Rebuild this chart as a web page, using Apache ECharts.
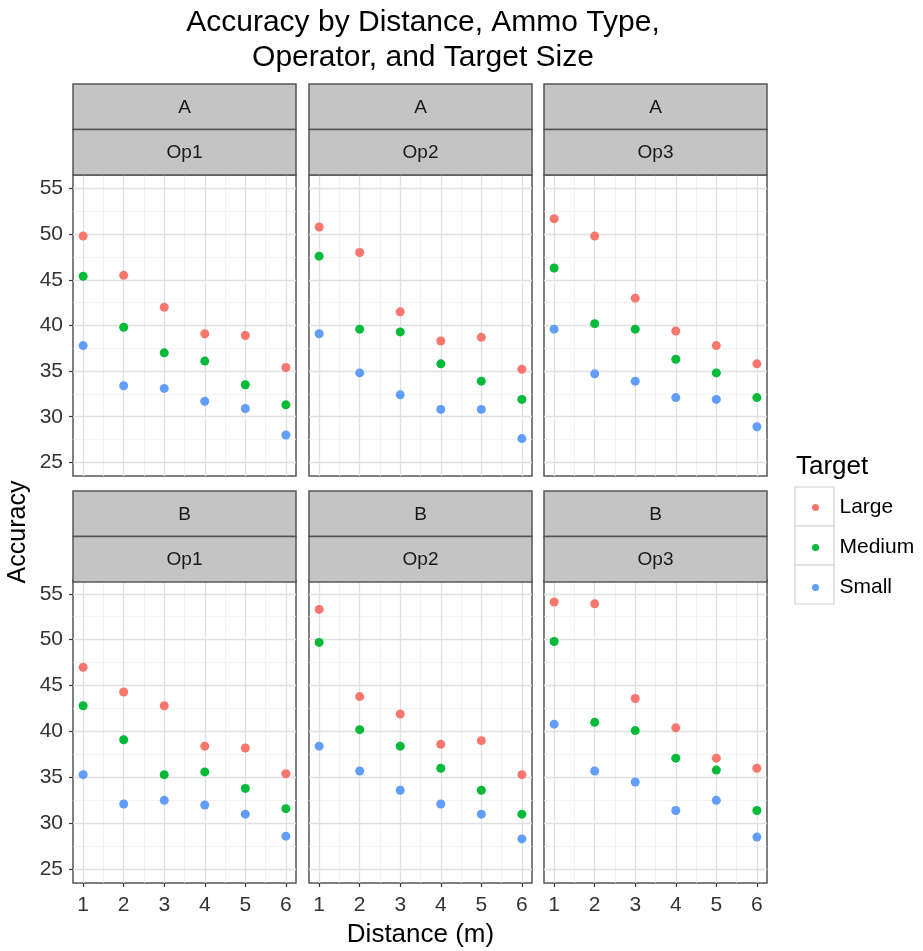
<!DOCTYPE html>
<html><head><meta charset="utf-8">
<script src="https://cdn.jsdelivr.net/npm/echarts@6/dist/echarts.min.js"></script>
<style>html,body{margin:0;padding:0;background:#fff}#c{width:923px;height:951px}</style>
</head><body><div id="c"></div>
<script>
// ---- data ----
const distances = [1, 2, 3, 4, 5, 6];
const ammoTypes = ['A', 'B'];
const operators = ['Op1', 'Op2', 'Op3'];
const targets = ['Large', 'Medium', 'Small'];
const yTicks = [25, 30, 35, 40, 45, 50, 55];
const yMinorTicks = [27.5, 32.5, 37.5, 42.5, 47.5, 52.5];
const xMinorTicks = [1.5, 2.5, 3.5, 4.5, 5.5];

const A_Op1_Large  = [49.8, 45.5, 42.0, 39.1, 38.9, 35.4];
const A_Op1_Medium = [45.4, 39.8, 37.0, 36.1, 33.5, 31.3];
const A_Op1_Small  = [37.8, 33.4, 33.1, 31.7, 30.9, 28.0];
const A_Op2_Large  = [50.8, 48.0, 41.5, 38.3, 38.7, 35.2];
const A_Op2_Medium = [47.6, 39.6, 39.3, 35.8, 33.9, 31.9];
const A_Op2_Small  = [39.1, 34.8, 32.4, 30.8, 30.8, 27.6];
const A_Op3_Large  = [51.7, 49.8, 43.0, 39.4, 37.8, 35.8];
const A_Op3_Medium = [46.3, 40.2, 39.6, 36.3, 34.8, 32.1];
const A_Op3_Small  = [39.6, 34.7, 33.9, 32.1, 31.9, 28.9];
const B_Op1_Large  = [47.0, 44.3, 42.8, 38.4, 38.2, 35.4];
const B_Op1_Medium = [42.8, 39.1, 35.3, 35.6, 33.8, 31.6];
const B_Op1_Small  = [35.3, 32.1, 32.5, 32.0, 31.0, 28.6];
const B_Op2_Large  = [53.3, 43.8, 41.9, 38.6, 39.0, 35.3];
const B_Op2_Medium = [49.7, 40.2, 38.4, 36.0, 33.6, 31.0];
const B_Op2_Small  = [38.4, 35.7, 33.6, 32.1, 31.0, 28.3];
const B_Op3_Large  = [54.1, 53.9, 43.6, 40.4, 37.1, 36.0];
const B_Op3_Medium = [49.8, 41.0, 40.1, 37.1, 35.8, 31.4];
const B_Op3_Small  = [40.8, 35.7, 34.5, 31.4, 32.5, 28.5];

const values = {
  A_Op1_Large, A_Op1_Medium, A_Op1_Small,
  A_Op2_Large, A_Op2_Medium, A_Op2_Small,
  A_Op3_Large, A_Op3_Medium, A_Op3_Small,
  B_Op1_Large, B_Op1_Medium, B_Op1_Small,
  B_Op2_Large, B_Op2_Medium, B_Op2_Small,
  B_Op3_Large, B_Op3_Medium, B_Op3_Small
};

// ---- style / layout ----
const colors = {Large: '#F8766D', Medium: '#00BA38', Small: '#619CFF'};
const FONT = '"Liberation Sans", Arial, sans-serif';
const colLeft = [73, 309, 544];
const panelW = 223;
const rowTop = [175, 580];
const rowH = [301, 303];
const stripTop = [84, 491];
const stripH = 45.5;
const stripFill = '#C4C4C4';
const borderCol = '#555555';

const grids = [], xAxes = [], yAxes = [], series = [], graphics = [];
let gi = 0;
ammoTypes.forEach((ammo, r) => {
  operators.forEach((op, c) => {
    grids.push({
      left: colLeft[c], top: rowTop[r], width: panelW, height: rowH[r],
      show: true, backgroundColor: '#fff', borderColor: borderCol, borderWidth: 1.5,
      containLabel: false
    });
    const bottom = r === 1;
    const leftCol = c === 0;
    xAxes.push({
      type: 'value', gridIndex: gi, min: 0.75, max: 6.25,
      axisLine: {show: false},
      splitLine: {show: false},
      axisTick: {show: bottom, length: 4, lineStyle: {color: '#333', width: 1.2}, customValues: distances},
      axisLabel: {show: bottom, margin: 12, fontSize: 21, color: '#333', fontFamily: FONT, customValues: distances},
      name: (bottom && c === 1) ? 'Distance (m)' : '',
      nameLocation: 'middle', nameGap: 39,
      nameTextStyle: {fontSize: 26, color: '#000', fontFamily: FONT}
    });
    yAxes.push({
      type: 'value', gridIndex: gi, min: 23.5, max: 56.5,
      axisLine: {show: false},
      splitLine: {show: false},
      axisTick: {show: leftCol, length: 4, lineStyle: {color: '#333', width: 1.2}, customValues: yTicks},
      axisLabel: {show: leftCol, margin: 10, fontSize: 21, color: '#333', fontFamily: FONT, customValues: yTicks}
    });
    // gridlines drawn through the axes' scales
    series.push({
      type: 'scatter', name: 'grid' + gi, xAxisIndex: gi, yAxisIndex: gi, data: [],
      silent: true, z: 1,
      markLine: {
        silent: true, z: 1, symbol: ['none', 'none'], label: {show: false}, animation: false,
        data: [
          ...xMinorTicks.map(v => ({xAxis: v, lineStyle: {color: '#F0F0F0', width: 0.8, type: 'solid'}})),
          ...yMinorTicks.map(v => ({yAxis: v, lineStyle: {color: '#F0F0F0', width: 0.8, type: 'solid'}})),
          ...distances.map(v => ({xAxis: v, lineStyle: {color: '#E0E0E0', width: 1.3, type: 'solid'}})),
          ...yTicks.map(v => ({yAxis: v, lineStyle: {color: '#E0E0E0', width: 1.3, type: 'solid'}}))
        ]
      }
    });
    targets.forEach(t => {
      const arr = values[ammo + '_' + op + '_' + t];
      series.push({
        type: 'scatter', name: t, xAxisIndex: gi, yAxisIndex: gi, z: 6,
        symbol: 'circle', symbolSize: 9,
        itemStyle: {color: colors[t], opacity: 1},
        data: distances.map((d, i) => [d, arr[i]])
      });
    });
    // strips
    const sx = colLeft[c], sy = stripTop[r];
    [ammo, op].forEach((lab, k) => {
      graphics.push({
        type: 'rect', z: 10,
        shape: {x: sx, y: sy + k * stripH, width: panelW, height: stripH},
        style: {fill: stripFill, stroke: borderCol, lineWidth: 1.5}
      });
      graphics.push({
        type: 'text', z: 11, x: sx + panelW / 2, y: sy + k * stripH + stripH / 2 + 1,
        style: {text: lab, fill: '#1A1A1A', font: '19px ' + FONT, align: 'center', verticalAlign: 'middle'}
      });
    });
    gi++;
  });
});

// y-axis title
graphics.push({
  type: 'text', x: 18, y: 532, rotation: Math.PI / 2, z: 11,
  style: {text: 'Accuracy', fill: '#000', font: '25px ' + FONT, align: 'center', verticalAlign: 'middle'}
});
// legend title and key boxes
graphics.push({
  type: 'text', x: 796, y: 467, z: 11,
  style: {text: 'Target', fill: '#000', font: '26px ' + FONT, align: 'left', verticalAlign: 'middle'}
});
targets.forEach((t, i) => {
  graphics.push({
    type: 'rect', z: 0,
    shape: {x: 795, y: 487 + i * 39, width: 39, height: 39},
    style: {fill: '#fff', stroke: '#D0D0D0', lineWidth: 1.2}
  });
});

const option = {
  animation: false,
  backgroundColor: '#ffffff',
  title: {
    text: 'Accuracy by Distance, Ammo Type,\nOperator, and Target Size',
    left: 418, top: 0, textAlign: 'center',
    textStyle: {fontSize: 30, fontWeight: 'normal', color: '#000', fontFamily: FONT, lineHeight: 35}
  },
  legend: {
    data: targets, orient: 'vertical', left: 812, top: 497, padding: 0,
    itemWidth: 38, itemHeight: 7, itemGap: 19, icon: 'circle',
    textStyle: {fontSize: 21, color: '#000', fontFamily: FONT, lineHeight: 20},
    selectedMode: false
  },
  grid: grids,
  xAxis: xAxes,
  yAxis: yAxes,
  series: series,
  graphic: graphics
};
const chart = echarts.init(document.getElementById('c'), null, {renderer: 'canvas'});
chart.setOption(option);
</script>
</body></html>
